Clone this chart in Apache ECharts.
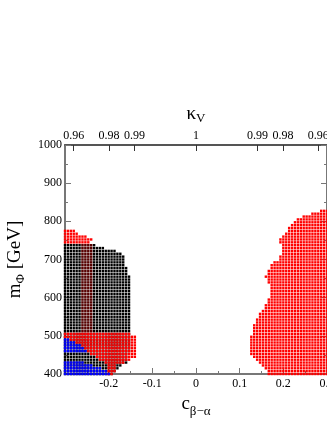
<!DOCTYPE html>
<html lang="en">
<head>
<meta charset="UTF-8">
<title>c_beta-alpha vs m_Phi scan</title>
<script src="https://cdn.jsdelivr.net/npm/echarts@6/dist/echarts.min.js"></script>
<style>
  html, body { margin: 0; padding: 0; background: #fff; }
  #chart { width: 327px; height: 423px; }
</style>
</head>
<body>
<div id="chart"></div>
<script type="text/javascript">
    // scan grid (one point per cell)
    var cStep = 0.2 / 30;
    var mStep = 7.5;

    // axis ticks
    var yTicks = [400, 500, 600, 700, 800, 900, 1000];
    var xTicks = [-0.3, -0.2, -0.1, 0, 0.1, 0.2, 0.3];
    var kappaLabels = ['0.96', '0.98', '0.99', '1', '0.99', '0.98', '0.96'];
    var kappaValues = [0.96, 0.98, 0.99, 1, 0.99, 0.98, 0.96];
    var kappaSigns = [-1, -1, -1, 0, 1, 1, 1];

    // region edges: [m, c]
    // left side, black points (right edge, from c=-0.3)
    var blackRight = [[400,-0.19],[410,-0.185],[430,-0.16],[470,-0.15],[510,-0.148],[540,-0.148],
        [580,-0.15],[620,-0.148],[650,-0.152],[680,-0.16],[700,-0.163],[715,-0.17],[725,-0.19],
        [733,-0.22],[741,-0.236]];
    // left side, red cap above the black
    var redTopRight = [[741,-0.25],[748,-0.24],[756,-0.238],[763,-0.262],[770,-0.275],[779,-0.277]];
    // left side, faint red column inside the black
    var redStripLeft = [[505,-0.266],[738,-0.266]];
    var redStripRight = [[505,-0.24],[738,-0.24]];
    // left side, red lower lobe
    var redLowLeft = [[400,-0.2],[425,-0.2],[437,-0.22],[445,-0.232],[455,-0.245],[470,-0.255],
        [485,-0.28],[495,-0.3],[512,-0.3]];
    var redLowRight = [[400,-0.19],[410,-0.185],[424,-0.18],[437,-0.15],[445,-0.137],[471,-0.133],
        [490,-0.135],[500,-0.14],[507,-0.15],[512,-0.17]];
    // left side, blue patches (right edge, from c=-0.3)
    var blueUpRight = [[455,-0.25],[465,-0.255],[475,-0.265],[485,-0.28],[495,-0.295]];
    var blueLowRight = [[400,-0.2],[405,-0.2],[415,-0.215],[425,-0.24],[435,-0.27]];
    // right side, red region (left edge, up to c=0.3)
    var redRightLeft = [[400,0.165],[410,0.162],[424,0.151],[437,0.135],[450,0.124],[471,0.122],
        [507,0.128],[534,0.135],[549,0.142],[568,0.151],[586,0.162],[602,0.169],[628,0.169],
        [641,0.165],[651,0.158],[664,0.162],[680,0.169],[691,0.176],[699,0.188],[725,0.197],
        [751,0.192],[759,0.197],[777,0.208],[796,0.222],[809,0.234],[817,0.256],[824,0.277],[831,0.29]];

    function edgeAt(tab, m) {
        if (m <= tab[0][0]) return tab[0][1];
        for (var i = 1; i < tab.length; i++) {
            if (m <= tab[i][0]) {
                var t = (m - tab[i-1][0]) / (tab[i][0] - tab[i-1][0]);
                return tab[i-1][1] + t * (tab[i][1] - tab[i-1][1]);
            }
        }
        return tab[tab.length - 1][1];
    }

    // pick the scan cells that fall inside a region
    function cells(leftTab, rightTab, mLo, mHi) {
        var out = [];
        for (var j = 0; j <= 80; j++) {
            var m = 400 + j * mStep;
            if (m < mLo || m > mHi) continue;
            var lo = leftTab ? edgeAt(leftTab, m) : -0.31;
            var hi = rightTab ? edgeAt(rightTab, m) : 0.31;
            for (var i = 0; i <= 90; i++) {
                var c = -0.3 + i * cStep;
                if (c >= lo - 1e-9 && c <= hi + 1e-9) out.push([c, m]);
            }
        }
        return out;
    }

    var kappaPos = kappaValues.map(function (k, i) {
        return kappaSigns[i] * Math.sqrt(1 - k * k);
    });

    function dots(name, color, data, opacity) {
        return {
            name: name, type: 'scatter', xAxisIndex: 0, yAxisIndex: 0,
            symbol: 'rect', symbolSize: 2.4, silent: true,
            itemStyle: { color: color, opacity: opacity || 1 },
            data: data
        };
    }

    var gray = '#777';
    var serif = 'Liberation Serif';
    var myChart = echarts.init(document.getElementById('chart'));
    myChart.setOption({
        animation: false,
        grid: { left: 65, top: 145, right: 0, bottom: 49, outerBoundsMode: 'none', containLabel: false },
        xAxis: [{
            type: 'value', position: 'bottom', min: -0.3, max: 0.3, interval: 0.1,
            name: '{c|c}{s|β−α}', nameLocation: 'middle', nameGap: 17,
            nameTextStyle: {
                rich: {
                    c: { fontFamily: serif, fontSize: 19, color: '#000' },
                    s: { fontFamily: serif, fontSize: 13, color: '#000', padding: [14, 0, 0, 0] }
                }
            },
            axisLine: { onZero: false, lineStyle: { color: gray, width: 2 } },
            axisTick: { inside: true, length: 6, lineStyle: { color: gray } },
            minorTick: { show: true, splitNumber: 2, length: 3, lineStyle: { color: gray } },
            splitLine: { show: false },
            axisLabel: {
                showMinLabel: false, margin: 4, color: '#000', fontFamily: serif, fontSize: 12,
                customValues: xTicks,
                formatter: function (v) { return Math.abs(v) < 1e-9 ? '0' : (+v.toFixed(1)).toString(); }
            }
        }, {
            type: 'value', position: 'top', min: -0.3, max: 0.3,
            name: '{k|κ}{s|V}', nameLocation: 'middle', nameGap: 18,
            nameTextStyle: {
                rich: {
                    k: { fontFamily: serif, fontSize: 19, color: '#000' },
                    s: { fontFamily: serif, fontSize: 13, color: '#000', padding: [10, 0, 0, 0] }
                }
            },
            axisLine: { onZero: false, lineStyle: { color: '#555', width: 2 } },
            axisTick: { inside: true, length: 6, customValues: kappaPos, lineStyle: { color: '#333' } },
            splitLine: { show: false },
            axisLabel: {
                margin: 3, color: '#000', fontFamily: serif, fontSize: 12,
                customValues: kappaPos,
                formatter: function (v) {
                    var best = 0;
                    for (var i = 1; i < kappaPos.length; i++) {
                        if (Math.abs(kappaPos[i] - v) < Math.abs(kappaPos[best] - v)) best = i;
                    }
                    return kappaLabels[best];
                }
            }
        }],
        yAxis: [{
            type: 'value', position: 'left', min: 400, max: 1000, interval: 100,
            name: '{m|m}{s|Φ}{m| [GeV]}', nameLocation: 'middle', nameGap: 36, nameRotate: 90,
            nameTextStyle: {
                rich: {
                    m: { fontFamily: serif, fontSize: 19, color: '#000' },
                    s: { fontFamily: serif, fontSize: 13, color: '#000', padding: [12, 0, 0, 0] }
                }
            },
            axisLine: { show: true, onZero: false, lineStyle: { color: gray, width: 2 } },
            axisTick: { show: true, inside: true, length: 6, lineStyle: { color: gray } },
            minorTick: { show: true, splitNumber: 2, length: 3, lineStyle: { color: gray } },
            splitLine: { show: false },
            axisLabel: {
                margin: 3, color: '#000', fontFamily: serif, fontSize: 12, customValues: yTicks,
                formatter: function (v) { return String(v); }
            }
        }, {
            type: 'value', position: 'right', min: 400, max: 1000, interval: 100,
            axisLine: { show: true, onZero: false, lineStyle: { color: gray, width: 2 } },
            axisTick: { show: true, inside: true, length: 6, lineStyle: { color: gray } },
            minorTick: { show: true, splitNumber: 2, length: 3, lineStyle: { color: gray } },
            splitLine: { show: false },
            axisLabel: { show: false }
        }],
        series: [
            dots('black', '#000000', cells(null, blackRight, 400, 741)),
            dots('red cap', '#ff0000', cells(null, redTopRight, 741, 779)),
            dots('red strip', '#ff0000', cells(redStripLeft, redStripRight, 505, 738), 0.35),
            dots('red low', '#ff0000', cells(redLowLeft, redLowRight, 400, 512)),
            dots('blue up', '#0000ff', cells(null, blueUpRight, 455, 495)),
            dots('blue low', '#0000ff', cells(null, blueLowRight, 400, 435)),
            dots('red right', '#ff0000', cells(redRightLeft, null, 400, 831))
        ]
    });
</script>
</body>
</html>
